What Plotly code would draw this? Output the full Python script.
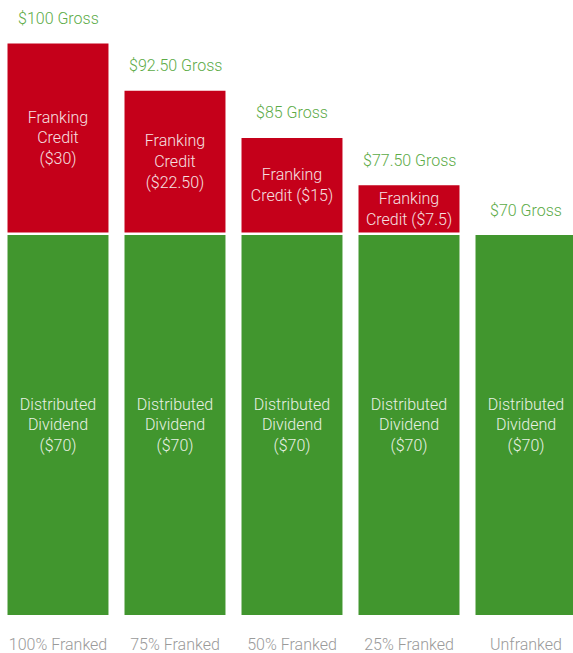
import plotly.graph_objects as go

# ---- data ----
categories = ["100% Franked", "75% Franked", "50% Franked", "25% Franked", "Unfranked"]
dividend = [70, 70, 70, 70, 70]
franking = [30, 22.5, 15, 7.5, 0]
franking_labels = ["Franking<br>Credit<br>($30)", "Franking<br>Credit<br>($22.50)",
                   "Franking<br>Credit ($15)", "Franking<br>Credit ($7.5)", ""]
dividend_labels = ["Distributed<br>Dividend<br>($70)"] * 5

FONT = "Roboto, Liberation Sans, sans-serif"
RED = "#c5001a"
GREEN = "#41962e"
LABEL_GREEN = "#5cab47"
GREY = "#9a9a9a"


def fmt_gross(v):
    return f"${v:.0f} Gross" if float(v).is_integer() else f"${v:.2f} Gross"


fig = go.Figure()
fig.add_trace(go.Bar(
    x=categories, y=dividend, width=0.863, marker=dict(color=GREEN, line=dict(width=0)),
    text=dividend_labels, textposition="inside", insidetextanchor="middle",
    constraintext="none", textangle=0,
    textfont=dict(family=FONT, size=16, color="#e9f1e4", weight=300),
    hoverinfo="skip", yaxis="y"))
fig.add_trace(go.Bar(
    x=categories, y=franking, base=dividend, width=0.863,
    marker=dict(color=RED, line=dict(width=0)),
    text=franking_labels, textposition="inside", insidetextanchor="middle",
    constraintext="none", textangle=0,
    textfont=dict(family=FONT, size=16, color="#f6e0e2", weight=300),
    hoverinfo="skip", yaxis="y2"))

annotations = []
for c, d, f in zip(categories, dividend, franking):
    total = d + f
    annotations.append(dict(
        x=c, y=total, xref="x", yref="y2" if f > 0 else "y",
        text=fmt_gross(total), showarrow=False, yanchor="middle", yshift=25,
        font=dict(family=FONT, size=16, color=LABEL_GREEN, weight=300)))

fig.update_layout(
    width=573, height=653,
    margin=dict(l=0, r=0, t=0, b=38, pad=0),
    paper_bgcolor="white", plot_bgcolor="white",
    barmode="overlay", showlegend=False,
    xaxis=dict(range=[-0.4957, 4.4017], showgrid=False, zeroline=False, showline=False,
               ticks="", tickfont=dict(family=FONT, size=16, color=GREY, weight=300),
               ticklabelstandoff=18, fixedrange=True),
    yaxis=dict(range=[0, 113.29], visible=False, showgrid=False, zeroline=False,
               fixedrange=True),
    yaxis2=dict(range=[9.29, 106.9], visible=False, overlaying="y", showgrid=False,
                zeroline=False, fixedrange=True),
    annotations=annotations,
)

fig.write_html("out.html", config={"displayModeBar": False},
               post_script="document.body.style.margin='0';document.body.style.overflow='hidden';")
